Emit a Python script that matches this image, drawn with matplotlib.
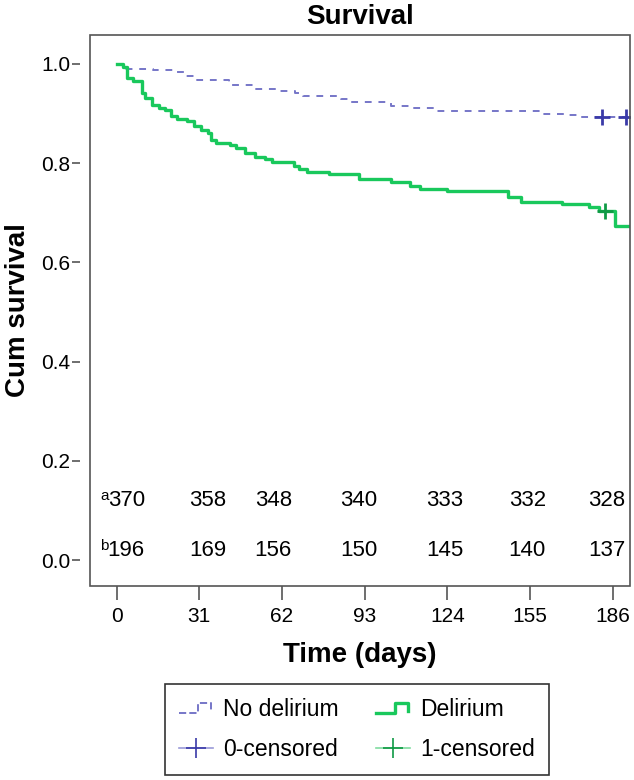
import matplotlib
matplotlib.use("Agg")
import matplotlib.pyplot as plt
from matplotlib.lines import Line2D
from matplotlib.patches import Rectangle
from matplotlib.legend_handler import HandlerBase

plt.rcParams['font.family'] = ['Liberation Sans', 'DejaVu Sans']

# Kaplan-Meier step data (day, survival after the step)
no_del_t = [0, 2.5, 13.5, 22, 26, 30, 42, 51, 60, 67, 70, 84, 88, 103, 110, 120, 160, 168, 174]
no_del_s = [1.0, 0.990, 0.987, 0.983, 0.976, 0.967, 0.957, 0.950, 0.946, 0.941, 0.936,
            0.929, 0.923, 0.915, 0.910, 0.904, 0.899, 0.896, 0.892]
no_del_end = 191
no_del_censor = [182, 191]

del_t = [0, 2.5, 3.8, 6.3, 9.4, 10.7, 13.2, 15.8, 18.3, 20.2, 22.7, 26.5, 29, 31.6, 34.1,
         35.4, 37.3, 42.4, 44.8, 48, 51.8, 55.6, 58.1, 66.4, 68.2, 71.4, 79.6, 91, 103,
         110, 113.8, 124, 146.7, 151.8, 166.9, 177, 181, 187]
del_s = [1.0, 0.993, 0.972, 0.966, 0.942, 0.932, 0.917, 0.910, 0.906, 0.894, 0.889, 0.884,
         0.874, 0.867, 0.860, 0.847, 0.841, 0.836, 0.830, 0.820, 0.813, 0.809, 0.802,
         0.795, 0.789, 0.783, 0.777, 0.768, 0.761, 0.753, 0.748, 0.744, 0.732, 0.721,
         0.717, 0.711, 0.703, 0.673]
del_end = 192
del_censor = [183]

# numbers at risk
risk_no_del = [370, 358, 348, 340, 333, 332, 328]
risk_del = [196, 169, 156, 150, 145, 140, 137]
risk_x = [3.6, 34.1, 58.7, 90.7, 123, 154, 183.7]
risk_rows_y = [0.121, 0.020]

xticks = [0, 31, 62, 93, 124, 155, 186]

c_nodel = '#7676c8'
c_nodel_mk = '#3a3aa8'
c_del = '#19c85c'
c_del_mk = '#0f9a45'


def surv_at(ts, ss, t):
    v = ss[0]
    for ti, si in zip(ts, ss):
        if ti <= t:
            v = si
    return v


class StepHandler(HandlerBase):
    def create_artists(self, legend, orig_handle, xdescent, ydescent,
                       width, height, fontsize, trans):
        x0 = -xdescent
        y0 = -ydescent
        xs = [x0, x0 + 0.55 * width, x0 + 0.55 * width, x0 + 0.95 * width, x0 + 0.95 * width]
        ys = [y0 + 0.15 * height, y0 + 0.15 * height, y0 + 0.8 * height,
              y0 + 0.8 * height, y0 + 0.3 * height]
        ln = Line2D(xs, ys, color=orig_handle.get_color(),
                    linewidth=orig_handle.get_linewidth(),
                    linestyle=orig_handle.get_linestyle(), transform=trans)
        return [ln]


fig = plt.figure(figsize=(6.34, 7.80), dpi=100)
ax = fig.add_axes([90 / 634, 1 - 586 / 780, 540 / 634, 551 / 780])

ax.step(no_del_t + [no_del_end], no_del_s + [no_del_s[-1]], where='post',
        color=c_nodel, lw=1.4, ls=(0, (3.5, 3.5)))
ax.step(del_t + [del_end], del_s + [del_s[-1]], where='post', color=c_del, lw=2.4)
ax.plot(no_del_censor, [surv_at(no_del_t, no_del_s, c) for c in no_del_censor], '+',
        color=c_nodel_mk, ms=11, mew=2)
ax.plot(del_censor, [surv_at(del_t, del_s, c) for c in del_censor], '+',
        color=c_del_mk, ms=11, mew=2)

for i in range(len(risk_x)):
    ax.text(risk_x[i], risk_rows_y[0], str(risk_no_del[i]), ha='center', va='center', fontsize=16)
    ax.text(risk_x[i], risk_rows_y[1], str(risk_del[i]), ha='center', va='center', fontsize=16)
ax.text(-4.5, risk_rows_y[0] + 0.008, 'a', ha='center', va='center', fontsize=11)
ax.text(-4.5, risk_rows_y[1] + 0.008, 'b', ha='center', va='center', fontsize=11)

ax.set_xlim(-10, 192.5)
ax.set_ylim(-0.052, 1.058)
ax.set_xticks(xticks)
ax.set_yticks([0.0, 0.2, 0.4, 0.6, 0.8, 1.0])
ax.set_yticklabels(['0.0', '0.2', '0.4', '0.6', '0.8', '1.0'])

for sp in ax.spines.values():
    sp.set_visible(False)
ax.spines['left'].set_position(('outward', 7))
ax.add_patch(Rectangle((0, 0), 1, 1, transform=ax.transAxes, fill=False,
                       edgecolor='#555555', lw=1.2, clip_on=False, zorder=5))
ax.tick_params(axis='x', length=10, width=1.2, color='#555555', labelsize=15, pad=5)
ax.tick_params(axis='y', length=6, width=1.2, color='#555555', labelsize=15, pad=1)

ax.set_xlabel('Time (days)', fontsize=20, fontweight='bold', labelpad=12)
ax.set_ylabel('Cum survival', fontsize=20, fontweight='bold')
ax.yaxis.set_label_coords(-0.11, 0.5)
ax.set_title('Survival', fontsize=20, fontweight='bold', pad=8)

h_nodel = Line2D([], [], color=c_nodel, lw=1.4, ls=(0, (3, 3)))
h_del = Line2D([], [], color=c_del, lw=2.4)
h_c0 = Line2D([], [], color='#9a9ad8', lw=1.2, marker='+', ms=14, mec=c_nodel_mk, mew=1.2)
h_c1 = Line2D([], [], color='#7fdca0', lw=1.2, marker='+', ms=14, mec=c_del_mk, mew=1.2)
leg = fig.legend([h_nodel, h_c0, h_del, h_c1],
                 ['No delirium', '0-censored', 'Delirium', '1-censored'],
                 ncol=2, loc='upper left', bbox_to_anchor=(165 / 634, 1 - 684 / 780),
                 fontsize=16.5, frameon=True, fancybox=False, edgecolor='black',
                 handlelength=1.5, handletextpad=0.45, columnspacing=1.6,
                 labelspacing=0.75, borderpad=0.6, borderaxespad=0,
                 handler_map={h_nodel: StepHandler(), h_del: StepHandler()})
leg.get_frame().set_linewidth(1.2)

fig.savefig('out.png', dpi=100)
